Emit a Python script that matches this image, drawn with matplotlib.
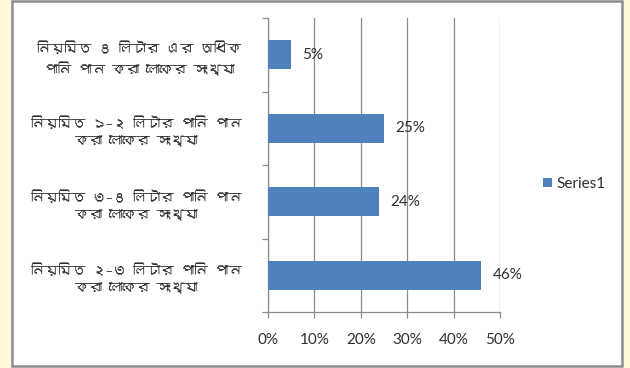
import matplotlib
matplotlib.use("Agg")
import matplotlib.pyplot as plt
from matplotlib import font_manager
from matplotlib.patches import Rectangle
from matplotlib.ticker import FixedLocator, PercentFormatter
from matplotlib.ft2font import FT2Font

# Categories listed from the bottom bar to the top bar
categories = [
    "নিয়মিত ২–৩ লিটার পানি পান\nকরা লোকের সংখ্যা",
    "নিয়মিত ৩–৪ লিটার পানি পান\nকরা লোকের সংখ্যা",
    "নিয়মিত ১–২ লিটার পানি পান\nকরা লোকের সংখ্যা",
    "নিয়মিত ৪ লিটার এর অধিক\nপানি পান করা লোকের সংখ্যা",
]
values = [46, 24, 25, 5]
value_labels = ["46%", "24%", "25%", "5%"]
x_ticks = [0, 10, 20, 30, 40, 50]
series_name = "Series1"


def bengali_family():
    """Return an installed family that has Bengali glyphs, if any."""
    probe = [ord(c) for c in "নিয়মতলটর"]
    for entry in font_manager.fontManager.ttflist:
        try:
            cmap = FT2Font(entry.fname).get_charmap()
        except Exception:
            continue
        if all(p in cmap for p in probe):
            return entry.name
    return None


latin = "Lato"
beng = bengali_family()
label_family = [beng, "DejaVu Sans"] if beng else ["DejaVu Sans"]

bar_color = "#4F81BD"
grid_color = "#8C8C8C"
text_color = "#2E2E2E"

fig = plt.figure(figsize=(6.3, 3.68), dpi=100, facecolor="#FFF9DA")
W, H = 630, 368

# White chart panel with a grey frame, kept behind the axes
panel = Rectangle((12 / W, 1 - 366 / H), 610 / W, 365 / H,
                  transform=fig.transFigure, facecolor="white",
                  edgecolor="#8E8E8E", linewidth=1.8, zorder=-5)
fig.add_artist(panel)

ax = fig.add_axes([268 / W, 1 - 312 / H, 232 / W, 294 / H])
ax.set_facecolor("none")
ax.set_zorder(2)

ypos = list(range(len(categories)))
bars = ax.barh(ypos, values, height=0.39, color=bar_color, zorder=3,
               label=series_name)

ax.set_xlim(0, 50)
ax.set_ylim(-0.5, len(categories) - 0.5)

ax.xaxis.set_major_locator(FixedLocator(x_ticks))
ax.xaxis.set_major_formatter(PercentFormatter(decimals=0))
ax.grid(axis="x", color=grid_color, linewidth=0.9, zorder=1)

ax.set_yticks(ypos)
ax.set_yticklabels(categories, family=label_family, fontsize=9.8,
                   color=text_color, multialignment="center",
                   linespacing=1.55)
ax.yaxis.set_minor_locator(FixedLocator([i - 0.5 for i in range(len(categories) + 1)]))
ax.tick_params(axis="y", which="major", length=0, pad=19)
ax.tick_params(axis="y", which="minor", length=4, color=grid_color, width=0.9)
ax.tick_params(axis="x", which="major", length=4, color=grid_color, width=0.9,
               labelsize=11, labelcolor=text_color, pad=11)
for lab in ax.get_xticklabels():
    lab.set_family(latin)

for side in ("top", "right"):
    ax.spines[side].set_visible(False)
for side in ("left", "bottom"):
    ax.spines[side].set_color(grid_color)
    ax.spines[side].set_linewidth(0.9)

for y, v, txt in zip(ypos, values, value_labels):
    ax.annotate(txt, (v, y), xytext=(8, 0), textcoords="offset points",
                ha="left", va="center", fontsize=11, family=latin,
                color=text_color, zorder=4)

leg = fig.legend(handles=[bars], labels=[series_name], loc="center left",
                 bbox_to_anchor=(529 / W, 1 - 184 / H), frameon=False,
                 handlelength=0.6, handleheight=0.6, handletextpad=0.3,
                 prop={"family": latin, "size": 11})
for t in leg.get_texts():
    t.set_color(text_color)

fig.savefig("out.png", dpi=100, facecolor=fig.get_facecolor())
